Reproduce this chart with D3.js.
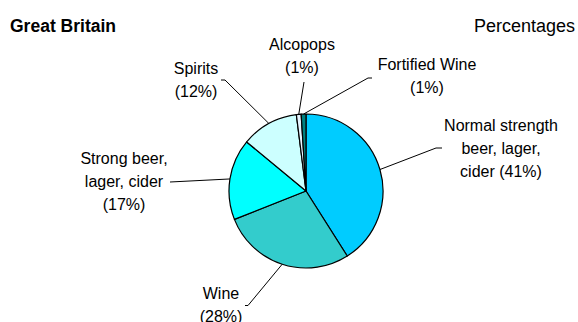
<!DOCTYPE html>
<html>
<head>
<meta charset="utf-8">
<script src="https://cdn.jsdelivr.net/npm/d3@7"></script>
<style>
  html, body { margin: 0; padding: 0; background: #fff; }
  svg { display: block; font-family: "Liberation Sans", Arial, sans-serif; }
</style>
</head>
<body>
<svg id="chart" width="578" height="322"></svg>
<script>
// Alcohol consumption by drink type, Great Britain (percentages)
const categories = ["Normal strength beer, lager, cider", "Wine", "Strong beer, lager, cider", "Spirits", "Alcopops", "Fortified Wine"];
const values = [41, 28, 17, 12, 1, 1];
const colors = ["#00CCFF", "#33CCCC", "#00FFFF", "#CCFFFF", "#E6F4FF", "#008080"];
// Label lines drawn for each slice, in the same order
const labelLines = [
  ["Normal strength", "beer, lager,", "cider (41%)"],
  ["Wine", "(28%)"],
  ["Strong beer,", "lager, cider", "(17%)"],
  ["Spirits", "(12%)"],
  ["Alcopops", "(1%)"],
  ["Fortified Wine", "(1%)"]
];

const svg = d3.select("#chart");
const cx = 306, cy = 191, r = 77;

const data = categories.map((c, i) => ({ name: c, value: values[i], color: colors[i], lines: labelLines[i] }));

const pie = d3.pie().value(d => d.value).sort(null).startAngle(0).endAngle(2 * Math.PI);
const arcs = pie(data);
const arc = d3.arc().innerRadius(0).outerRadius(r);

const g = svg.append("g").attr("transform", `translate(${cx},${cy})`);

g.selectAll("path.slice")
  .data(arcs)
  .join("path")
  .attr("class", "slice")
  .attr("d", arc)
  .attr("fill", d => d.data.color)
  .attr("stroke", "#000")
  .attr("stroke-width", 1.2)
  .attr("stroke-linejoin", "round");

// Label placement: text anchor (centre x, first baseline); the leader line
// bends at (bx, ly) and finishes with a short horizontal stub at (hx, ly)
const labelPos = [
  { x: 501, y: 130.5, bx: 436, hx: 442, ly: 148 },
  { x: 221, y: 299,   bx: 248, hx: 245, ly: 305.5 },
  { x: 124, y: 163.5, bx: 170, hx: 170, ly: 182 },
  { x: 196, y: 73.5,  bx: 225, hx: 221, ly: 80 },
  { x: 302, y: 49.5,  bx: 304, hx: 304, ly: 82 },
  { x: 427, y: 70,    bx: 368, hx: 372, ly: 78 }
];
const lineGap = 23;

const outer = d3.arc().innerRadius(r).outerRadius(r);

arcs.forEach((a, i) => {
  const p = labelPos[i];
  const [ex, ey] = outer.centroid(a);
  const pts = [[ex + cx, ey + cy], [p.bx, p.ly], [p.hx, p.ly]];
  svg.append("path")
    .attr("d", d3.line()(pts))
    .attr("fill", "none")
    .attr("stroke", "#000")
    .attr("stroke-width", 1);

  const t = svg.append("text")
    .attr("text-anchor", "middle")
    .attr("font-size", 16)
    .attr("fill", "#000");
  a.data.lines.forEach((ln, k) => {
    t.append("tspan").attr("x", p.x).attr("y", p.y + k * lineGap).text(ln);
  });
});

svg.append("text")
  .attr("x", 10).attr("y", 31.5)
  .attr("font-size", 17.5).attr("font-weight", "bold")
  .text("Great Britain");

svg.append("text")
  .attr("x", 575).attr("y", 31.5)
  .attr("text-anchor", "end")
  .attr("font-size", 18)
  .text("Percentages");
</script>
</body>
</html>
